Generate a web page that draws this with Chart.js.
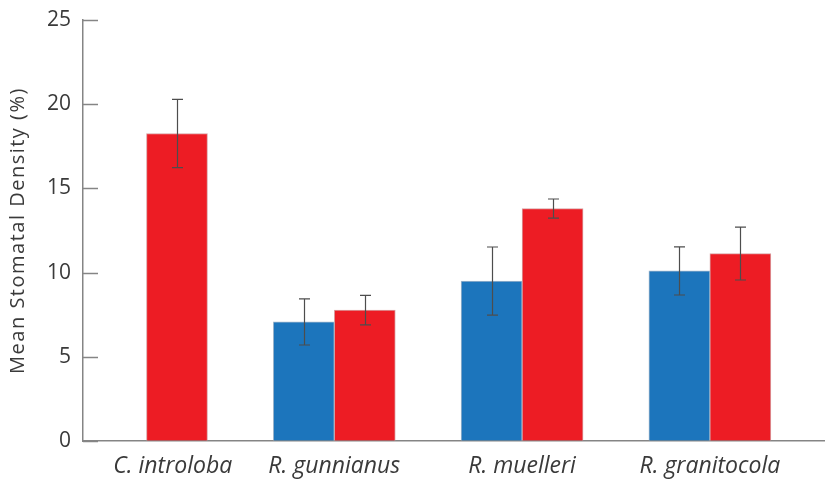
<!DOCTYPE html>
<html>
<head>
<meta charset="utf-8">
<script src="https://cdn.jsdelivr.net/npm/chart.js@4.4.1/dist/chart.umd.min.js"></script>
<style>
  html, body { margin: 0; padding: 0; background: #ffffff; }
  #wrap { width: 825px; height: 480px; }
</style>
</head>
<body>
<div id="wrap"><canvas id="c" width="825" height="480"></canvas></div>
<script>
// Species along the x axis
const species = ['C. introloba', 'R. gunnianus', 'R. muelleri', 'R. granitocola'];

// Mean stomatal density (%) per species, two groups (blue / red)
const blueMeans = [null, 7.07, 9.5, 10.1];
const blueErrors = [null, 1.37, 2.02, 1.43];
const redMeans = [18.26, 7.77, 13.8, 11.13];
const redErrors = [2.03, 0.88, 0.57, 1.57];

// Y axis ticks
const yTicks = [0, 5, 10, 15, 20, 25];

const BLUE = '#1c75bc';
const RED = '#ed1c24';
const AXIS = '#858585';
const TEXT = '#3a3a3a';

const toPoints = (vals) => vals.map((v, i) => ({ x: i, y: v }));

// Whisker lines with caps, placed with the chart's own scales
const errorBars = {
  id: 'errorBars',
  afterDatasetsDraw(chart) {
    const ctx = chart.ctx;
    const y = chart.scales.y;
    ctx.save();
    ctx.strokeStyle = '#4d4d4d';
    ctx.lineWidth = 1.2;
    chart.data.datasets.forEach((ds, di) => {
      const meta = chart.getDatasetMeta(di);
      meta.data.forEach((bar, i) => {
        const v = ds.data[i].y;
        const e = ds.errors[i];
        if (v == null || e == null) return;
        const x = Math.round(bar.x) + 0.5;
        const top = y.getPixelForValue(v + e);
        const bot = y.getPixelForValue(v - e);
        ctx.beginPath();
        ctx.moveTo(x, top); ctx.lineTo(x, bot);
        ctx.moveTo(x - 5.5, top); ctx.lineTo(x + 5.5, top);
        ctx.moveTo(x - 5.5, bot); ctx.lineTo(x + 5.5, bot);
        ctx.stroke();
      });
    });
    ctx.restore();
  }
};

// Short tick marks pointing into the plot from the y axis
const innerTicks = {
  id: 'innerTicks',
  afterDraw(chart) {
    const ctx = chart.ctx;
    const y = chart.scales.y;
    const left = chart.chartArea.left;
    ctx.save();
    ctx.strokeStyle = AXIS;
    ctx.lineWidth = 1.5;
    y.ticks.forEach(t => {
      const p = Math.round(y.getPixelForValue(t.value)) + 0.5;
      ctx.beginPath();
      ctx.moveTo(left, p);
      ctx.lineTo(left + 15, p);
      ctx.stroke();
    });
    ctx.restore();
  }
};

// Looser letter spacing for the y axis title
const spacedTitle = {
  id: 'spacedTitle',
  beforeDraw(chart) {
    const scale = chart.scales.y;
    if (scale._spacedTitle) return;
    const orig = scale.drawTitle;
    scale.drawTitle = function () {
      const ctx = this.ctx;
      const prev = ctx.letterSpacing;
      ctx.letterSpacing = '1.5px';
      orig.apply(this, arguments);
      ctx.letterSpacing = prev || '0px';
    };
    scale._spacedTitle = true;
  }
};

// Category tick positions; the first label sits slightly right of its bar slot
const labelShift = [0.14, 0, 0, 0];

new Chart(document.getElementById('c'), {
  type: 'bar',
  data: {
    datasets: [
      {
        label: 'blue',
        data: toPoints(blueMeans),
        errors: blueErrors,
        backgroundColor: BLUE,
        borderColor: '#9fb6cc',
        borderWidth: 1,
        barThickness: 61
      },
      {
        label: 'red',
        data: toPoints(redMeans),
        errors: redErrors,
        backgroundColor: RED,
        borderColor: '#d9a0a2',
        borderWidth: 1,
        barThickness: 61
      }
    ]
  },
  options: {
    responsive: false,
    animation: false,
    devicePixelRatio: 1,
    layout: { padding: { top: 20, right: 0, bottom: 0, left: 0 } },
    plugins: {
      legend: { display: false },
      tooltip: { enabled: false }
    },
    scales: {
      x: {
        type: 'linear',
        offset: false,
        min: -0.338,
        max: 3.613,
        grid: { display: false, drawTicks: false },
        border: { display: true, color: AXIS, width: 1.5 },
        afterBuildTicks(scale) {
          scale.ticks = species.map((_, i) => ({ value: i + labelShift[i] }));
        },
        afterFit(scale) {
          scale.height = 39;
          scale.paddingLeft = 0;
          scale.paddingRight = 0;
        },
        ticks: {
          autoSkip: false,
          maxRotation: 0,
          padding: 12,
          color: TEXT,
          font: { family: 'Open Sans', size: 23, style: 'italic' },
          callback: (v) => species[Math.round(v)]
        }
      },
      y: {
        min: 0,
        max: 25,
        afterBuildTicks(scale) {
          scale.ticks = yTicks.map(v => ({ value: v }));
        },
        afterFit(scale) {
          scale.width = 83;
          scale.paddingTop = 0;
          scale.paddingBottom = 0;
        },
        grid: { display: true, drawOnChartArea: false, drawTicks: false },
        border: { display: true, color: AXIS, width: 1.5 },
        ticks: {
          padding: 12,
          color: TEXT,
          font: { family: 'Open Sans', size: 21 }
        },
        title: {
          display: true,
          text: 'Mean Stomatal Density (%)',
          color: TEXT,
          padding: { top: 6, bottom: 0 },
          font: { family: 'Open Sans', size: 20 }
        }
      }
    }
  },
  plugins: [errorBars, innerTicks, spacedTitle]
});
</script>
</body>
</html>
